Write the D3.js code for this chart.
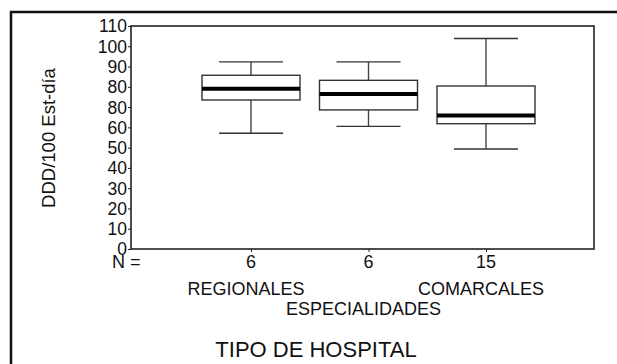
<!DOCTYPE html>
<html>
<head>
<meta charset="utf-8">
<script src="https://cdnjs.cloudflare.com/ajax/libs/d3/7.8.5/d3.min.js"></script>
<style>
  body { margin: 0; background: #fff; }
  svg text { font-family: "Liberation Sans", Arial, sans-serif; fill: #111; }
</style>
</head>
<body>
<script>
//data
var categories = ["REGIONALES", "ESPECIALIDADES", "COMARCALES"];
var nValues = [6, 6, 15];
var whiskerLow = [57.1, 60.5, 49.3];
var q1 = [73.5, 68.6, 61.8];
var medians = [79.1, 76.5, 65.8];
var q3 = [85.7, 83.2, 80.4];
var whiskerHigh = [92.3, 92.3, 103.8];
var tickValues = [0, 10, 20, 30, 40, 50, 60, 70, 80, 90, 100, 110];
var tickLabels = ["0", "10", "20", "30", "40", "50", "60", "80", "80", "90", "100", "110"];

var width = 617,
    height = 364,
    plotLeft = 131,
    plotRight = 594,
    plotTop = 26,
    plotBottom = 249,
    boxWidth = 98,
    capWidth = 64;

var svg = d3.select("body")
    .append("svg")
    .attr("width", width)
    .attr("height", height);

//outer frame (only top and left edges are visible)
svg.append("path")
    .attr("d", "M11," + (height + 5) + "V12H" + (width + 5))
    .attr("fill", "none")
    .attr("stroke", "#111")
    .attr("stroke-width", 2.5);

var yScale = d3.scaleLinear()
    .domain([0, 110])
    .range([plotBottom, plotTop]);

var xScale = d3.scalePoint()
    .domain(categories)
    .range([plotLeft + 120, plotLeft + 355]);

//plot frame
svg.append("rect")
    .attr("x", plotLeft)
    .attr("y", plotTop)
    .attr("width", plotRight - plotLeft)
    .attr("height", plotBottom - plotTop)
    .attr("fill", "none")
    .attr("stroke", "#222")
    .attr("stroke-width", 1.6);

//y axis
var yAxis = d3.axisLeft(yScale)
    .tickValues(tickValues)
    .tickSize(3)
    .tickPadding(1)
    .tickFormat(function(d, i){ return tickLabels[i]; });

var gy = svg.append("g")
    .attr("transform", "translate(" + plotLeft + ",0)")
    .call(yAxis);
gy.select(".domain").remove();
gy.selectAll(".tick line").attr("stroke", "#222");
gy.selectAll("text")
    .style("font-size", "17.5px")
    .attr("dy", "0.34em");

//x ticks under each box
var xAxis = d3.axisBottom(xScale)
    .tickSize(3)
    .tickFormat("");
var gx = svg.append("g")
    .attr("transform", "translate(0," + plotBottom + ")")
    .call(xAxis);
gx.select(".domain").remove();
gx.selectAll(".tick line").attr("stroke", "#222");

//y axis title
svg.append("text")
    .attr("transform", "translate(55,138) rotate(-90)")
    .attr("text-anchor", "middle")
    .style("font-size", "18.5px")
    .text("DDD/100 Est-día");

//boxes
var rows = categories.map(function(c, i){
    return {cat: c, lo: whiskerLow[i], q1: q1[i], med: medians[i], q3: q3[i], hi: whiskerHigh[i], n: nValues[i]};
});

var boxes = svg.selectAll(".box")
    .data(rows)
    .enter()
    .append("g")
    .attr("class", "box")
    .attr("transform", function(d){ return "translate(" + xScale(d.cat) + ",0)"; });

//whisker stems
boxes.append("line")
    .attr("x1", 0).attr("x2", 0)
    .attr("y1", function(d){ return yScale(d.hi); })
    .attr("y2", function(d){ return yScale(d.q3); })
    .attr("stroke", "#444").attr("stroke-width", 1.4);
boxes.append("line")
    .attr("x1", 0).attr("x2", 0)
    .attr("y1", function(d){ return yScale(d.q1); })
    .attr("y2", function(d){ return yScale(d.lo); })
    .attr("stroke", "#444").attr("stroke-width", 1.4);

//whisker caps
["hi", "lo"].forEach(function(k){
    boxes.append("line")
        .attr("x1", -capWidth / 2).attr("x2", capWidth / 2)
        .attr("y1", function(d){ return yScale(d[k]); })
        .attr("y2", function(d){ return yScale(d[k]); })
        .attr("stroke", "#333").attr("stroke-width", 1.4);
});

boxes.append("rect")
    .attr("x", -boxWidth / 2)
    .attr("width", boxWidth)
    .attr("y", function(d){ return yScale(d.q3); })
    .attr("height", function(d){ return yScale(d.q1) - yScale(d.q3); })
    .attr("fill", "#fff")
    .attr("stroke", "#333")
    .attr("stroke-width", 1.4);

boxes.append("line")
    .attr("x1", -boxWidth / 2).attr("x2", boxWidth / 2)
    .attr("y1", function(d){ return yScale(d.med); })
    .attr("y2", function(d){ return yScale(d.med); })
    .attr("stroke", "#000").attr("stroke-width", 4);

//N row
svg.append("text")
    .attr("x", 112)
    .attr("y", 268)
    .style("font-size", "18px")
    .text("N =");

boxes.append("text")
    .attr("y", 268)
    .attr("text-anchor", "middle")
    .style("font-size", "18px")
    .text(function(d){ return d.n; });

//category labels, staggered
boxes.append("text")
    .attr("x", -5)
    .attr("y", function(d, i){ return i % 2 == 0 ? 295 : 315; })
    .attr("text-anchor", "middle")
    .style("font-size", "18px")
    .text(function(d){ return d.cat; });

//x axis title
svg.append("text")
    .attr("x", 316)
    .attr("y", 357)
    .attr("text-anchor", "middle")
    .style("font-size", "22px")
    .text("TIPO DE HOSPITAL");
</script>
</body>
</html>
